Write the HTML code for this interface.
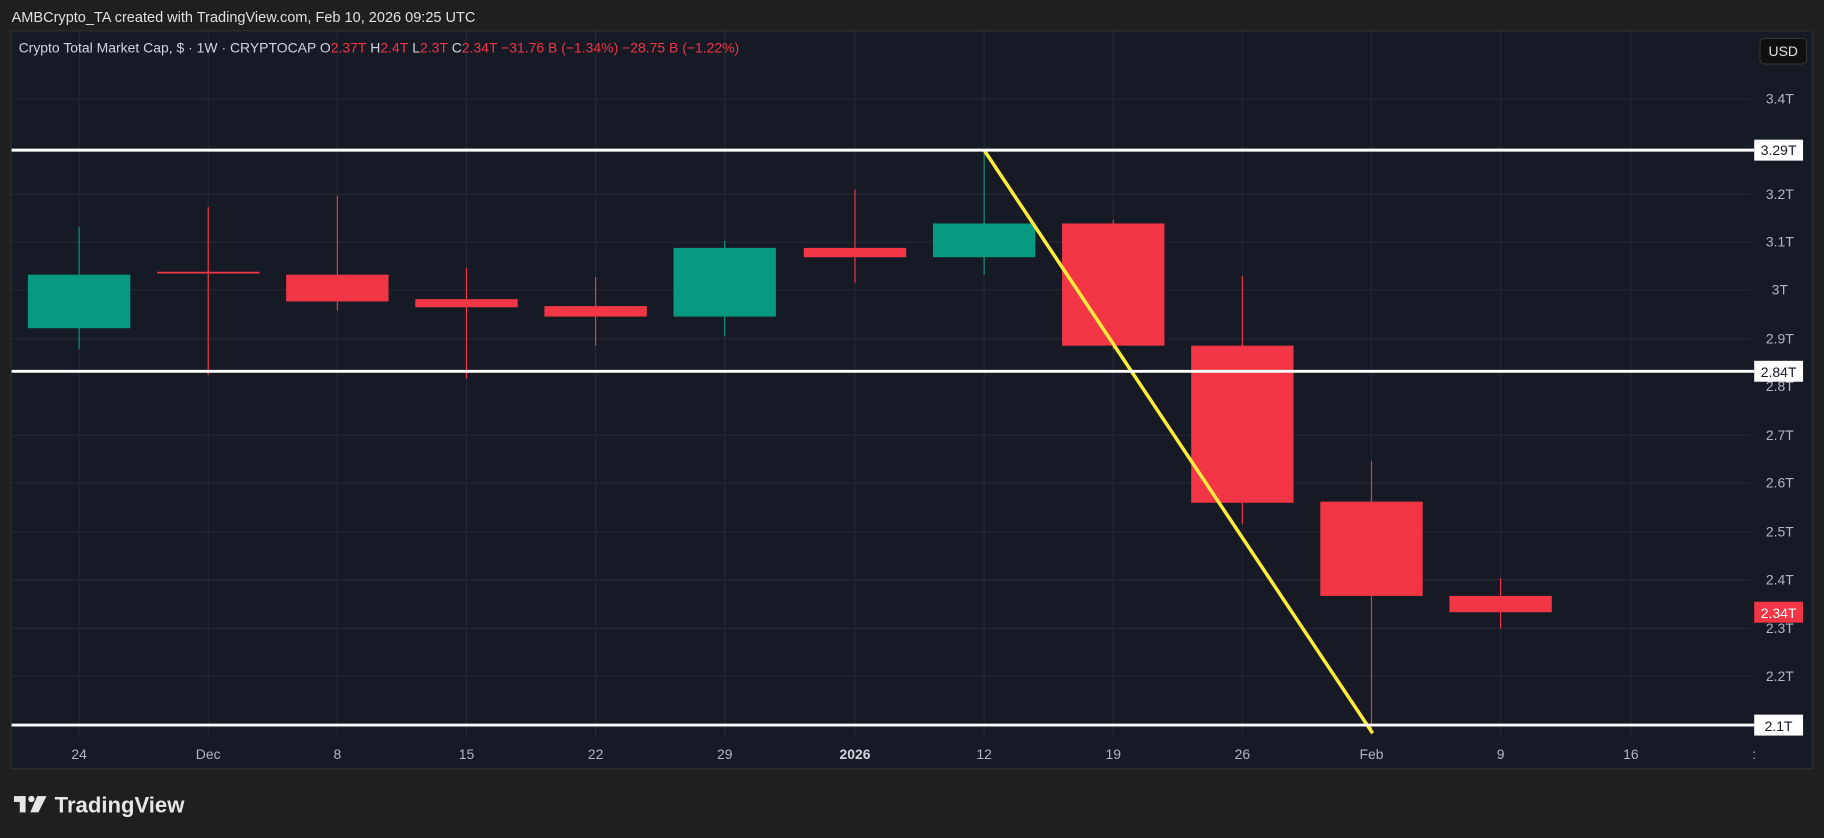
<!DOCTYPE html><html><head><style>html,body{margin:0;padding:0;background:#1f1f1f;overflow:hidden}svg{display:block}text{font-family:"Liberation Sans",sans-serif}</style></head><body>
<svg width="1824" height="838" viewBox="0 0 1568 720" preserveAspectRatio="none" xmlns="http://www.w3.org/2000/svg">
<rect width="1568" height="720" fill="#1f1f1f"/>
<text x="10" y="19" font-size="12.5" fill="#e0e0e0">AMBCrypto_TA created with TradingView.com, Feb 10, 2026 09:25 UTC</text>
<rect x="9.5" y="26.5" width="1549" height="634" fill="#161a25" stroke="#2e2e33"/>
<g stroke="#242833" stroke-width="1">
<line x1="10" y1="85" x2="1505" y2="85"/><line x1="10" y1="167" x2="1505" y2="167"/><line x1="10" y1="208" x2="1505" y2="208"/><line x1="10" y1="249" x2="1505" y2="249"/><line x1="10" y1="291" x2="1505" y2="291"/><line x1="10" y1="374" x2="1505" y2="374"/><line x1="10" y1="415" x2="1505" y2="415"/><line x1="10" y1="457" x2="1505" y2="457"/><line x1="10" y1="498" x2="1505" y2="498"/><line x1="10" y1="540" x2="1505" y2="540"/><line x1="10" y1="581" x2="1505" y2="581"/>
<line x1="68" y1="27" x2="68" y2="632"/><line x1="179" y1="27" x2="179" y2="632"/><line x1="290" y1="27" x2="290" y2="632"/><line x1="401" y1="27" x2="401" y2="632"/><line x1="512" y1="27" x2="512" y2="632"/><line x1="623" y1="27" x2="623" y2="632"/><line x1="735" y1="27" x2="735" y2="632"/><line x1="846" y1="27" x2="846" y2="632"/><line x1="957" y1="27" x2="957" y2="632"/><line x1="1068" y1="27" x2="1068" y2="632"/><line x1="1179" y1="27" x2="1179" y2="632"/><line x1="1290" y1="27" x2="1290" y2="632"/><line x1="1402" y1="27" x2="1402" y2="632"/>
</g>
<text x="16" y="45" font-size="12" fill="#d1d4dc">Crypto Total Market Cap, $ · 1W · CRYPTOCAP  O<tspan fill="#f23645">2.37T</tspan>  H<tspan fill="#f23645">2.4T</tspan>  L<tspan fill="#f23645">2.3T</tspan>  C<tspan fill="#f23645">2.34T  −31.76 B (−1.34%)  −28.75 B (−1.22%)</tspan></text>
<rect x="1513" y="33" width="40" height="22" rx="4" fill="#0f0f0f" stroke="#333"/>
<text x="1533" y="48" font-size="12" fill="#e0e0e0" text-anchor="middle">USD</text>
<g font-size="12" fill="#b2b5be" text-anchor="middle">
<text x="1530" y="89">3.4T</text><text x="1530" y="171">3.2T</text><text x="1530" y="212">3.1T</text><text x="1530" y="253">3T</text><text x="1530" y="295">2.9T</text><text x="1530" y="336">2.8T</text><text x="1530" y="378">2.7T</text><text x="1530" y="419">2.6T</text><text x="1530" y="461">2.5T</text><text x="1530" y="502">2.4T</text><text x="1530" y="544">2.3T</text><text x="1530" y="585">2.2T</text>
<text x="68" y="652">24</text><text x="179" y="652">Dec</text><text x="290" y="652">8</text><text x="401" y="652">15</text><text x="512" y="652">22</text><text x="623" y="652">29</text><text x="735" y="652" font-weight="bold" fill="#d1d4dc">2026</text><text x="846" y="652">12</text><text x="957" y="652">19</text><text x="1068" y="652">26</text><text x="1179" y="652">Feb</text><text x="1290" y="652">9</text><text x="1402" y="652">16</text><text x="1508" y="652">:</text>
</g>
<g stroke-width="1">
<line x1="68" y1="195" x2="68" y2="300" stroke="#089981"/><rect x="24" y="236" width="88" height="46" fill="#089981"/>
<line x1="179" y1="178" x2="179" y2="322" stroke="#f23645"/><rect x="135" y="233.5" width="88" height="1.5" fill="#f23645"/>
<line x1="290" y1="168" x2="290" y2="267" stroke="#f23645"/><rect x="246" y="236" width="88" height="23" fill="#f23645"/>
<line x1="401" y1="230" x2="401" y2="325" stroke="#f23645"/><rect x="357" y="257" width="88" height="7" fill="#f23645"/>
<line x1="512" y1="238" x2="512" y2="297" stroke="#f23645"/><rect x="468" y="263" width="88" height="9" fill="#f23645"/>
<line x1="623" y1="207" x2="623" y2="289" stroke="#089981"/><rect x="579" y="213" width="88" height="59" fill="#089981"/>
<line x1="735" y1="163" x2="735" y2="243" stroke="#f23645"/><rect x="691" y="213" width="88" height="8" fill="#f23645"/>
<line x1="846" y1="129" x2="846" y2="236" stroke="#089981"/><rect x="802" y="192" width="88" height="29" fill="#089981"/>
<line x1="957" y1="189" x2="957" y2="300" stroke="#f23645"/><rect x="913" y="192" width="88" height="105" fill="#f23645"/>
<line x1="1068" y1="237" x2="1068" y2="450" stroke="#f23645"/><rect x="1024" y="297" width="88" height="135" fill="#f23645"/>
<line x1="1179" y1="396" x2="1179" y2="630" stroke="#f23645"/><rect x="1135" y="431" width="88" height="81" fill="#f23645"/>
<line x1="1290" y1="497" x2="1290" y2="540" stroke="#f23645"/><rect x="1246" y="512" width="88" height="14" fill="#f23645"/>
</g>
<line x1="846" y1="129" x2="1180" y2="630" stroke="#ffeb3b" stroke-width="3"/>
<g stroke="#fff" stroke-width="2.5">
<line x1="10" y1="129" x2="1508" y2="129"/><line x1="10" y1="319" x2="1508" y2="319"/><line x1="10" y1="623" x2="1508" y2="623"/>
</g>
<g font-size="12" text-anchor="middle">
<rect x="1508" y="120" width="42" height="18" fill="#fff"/><text x="1529" y="133" fill="#131722">3.29T</text>
<rect x="1508" y="310" width="42" height="18" fill="#fff"/><text x="1529" y="324" fill="#131722">2.84T</text>
<rect x="1508" y="614" width="42" height="18" fill="#fff"/><text x="1529" y="628" fill="#131722">2.1T</text>
<rect x="1508" y="517" width="42" height="18" fill="#f23645"/><text x="1529" y="531" fill="#fff">2.34T</text>
</g>
<g fill="#e6e6e6">
<rect x="12" y="684" width="10" height="5"/><rect x="17" y="684" width="5" height="14"/><circle cx="27" cy="686.5" r="2.7"/><polygon points="32,684 40,684 33,698 26,698"/>
<text x="47" y="698" font-size="19" font-weight="bold">TradingView</text>
</g>
</svg></body></html>
